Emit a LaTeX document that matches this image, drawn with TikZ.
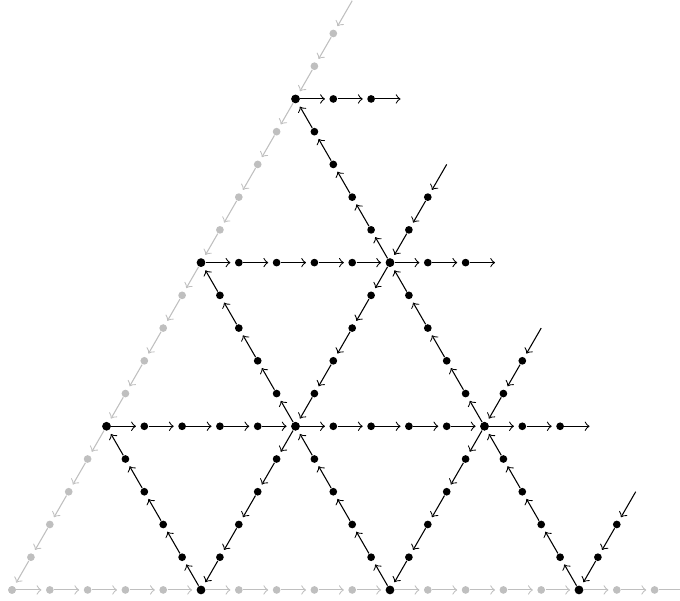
\documentclass[tikz,border=0pt]{standalone}
\usetikzlibrary{arrows}

\tikzset{
  dot/.style={circle,fill=black,inner sep=0pt,minimum size=2.9pt},
  bigdot/.style={dot,minimum size=3.3pt},
  greydot/.style={dot,fill=lightgray},
  ghost/.style={circle,inner sep=0pt,minimum size=2.9pt},
  flow/.style={->,shorten >=1.5pt},
  greyflow/.style={flow,lightgray}
}

\begin{document}
\begin{tikzpicture}[x={(0.5cm,0cm)},y={(0.25cm,0.433cm)}]
\path[use as bounding box,clip] (-0.159cm,-0.146cm) rectangle (8.836cm,7.804cm);

% grey border of the big triangle
\foreach \t in {0,...,17} {
  \node[greydot] (n-\t-0) at (\t,0) {};
  \node[greydot] (n-0-\t) at (0,\t) {};
}
\coordinate (n-18-0) at (18,0);
\coordinate (n-0-18) at (0,18);

% rows and columns, each one runs three steps past the triangle
\foreach \s/\len in {5/13,10/8,15/3} {
  \pgfmathtruncatemacro{\last}{\len-1}
  \foreach \t in {1,...,\last} {
    \node[dot] (n-\t-\s) at (\t,\s) {};
    \node[dot] (n-\s-\t) at (\s,\t) {};
  }
  \node[ghost] (n-\len-\s) at (\len,\s) {};
  \coordinate (n-\s-\len) at (\s,\len);
}

% anti-diagonals
\foreach \s in {5,10,15} {
  \pgfmathtruncatemacro{\last}{\s-1}
  \foreach \t in {1,...,\last} {
    \pgfmathtruncatemacro{\r}{\s-\t}
    \node[dot] (n-\r-\t) at (\r,\t) {};
  }
}

% corners of the small triangles
\foreach \p/\q in {5/0,10/0,15/0,0/5,5/5,10/5,0/10,5/10,0/15}
  \node[bigdot] (n-\p-\q) at (\p,\q) {};

% edges
\foreach \t in {0,...,17} {
  \pgfmathtruncatemacro{\u}{\t+1}
  \draw[greyflow] (n-\t-0) -- (n-\u-0);
  \draw[greyflow] (n-0-\u) -- (n-0-\t);
}

\foreach \s/\len in {5/13,10/8,15/3} {
  \pgfmathtruncatemacro{\last}{\len-1}
  \foreach \t in {0,...,\last} {
    \pgfmathtruncatemacro{\u}{\t+1}
    \draw[flow] (n-\t-\s) -- (n-\u-\s);
    \draw[flow] (n-\s-\u) -- (n-\s-\t);
  }
}

\foreach \s in {5,10,15} {
  \pgfmathtruncatemacro{\last}{\s-1}
  \foreach \t in {0,...,\last} {
    \pgfmathtruncatemacro{\r}{\s-\t}
    \pgfmathtruncatemacro{\rr}{\s-\t-1}
    \pgfmathtruncatemacro{\u}{\t+1}
    \draw[flow] (n-\r-\t) -- (n-\rr-\u);
  }
}
\end{tikzpicture}
\end{document}
